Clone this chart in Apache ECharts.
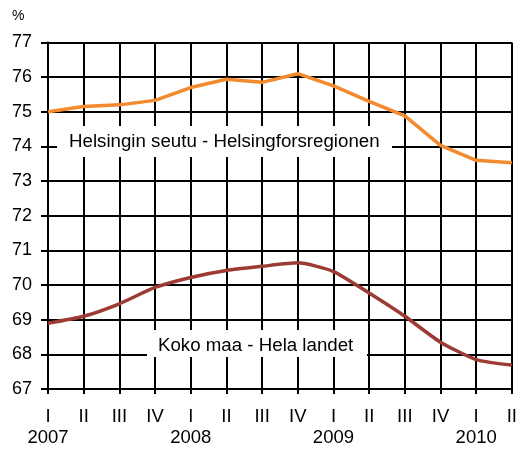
<!DOCTYPE html>
<html>
<head>
<meta charset="utf-8">
<script src="https://cdn.jsdelivr.net/npm/echarts@6/dist/echarts.min.js"></script>
<style>
  html, body { margin: 0; padding: 0; background: #fff; }
  #chart { width: 520px; height: 449px; }
</style>
</head>
<body>
<div id="chart"></div>
<script>
// quarters 2007 I .. 2010 II
var quarters = ['I', 'II', 'III', 'IV', 'I', 'II', 'III', 'IV', 'I', 'II', 'III', 'IV', 'I', 'II'];
var years = ['2007', '', '', '', '2008', '', '', '', '2009', '', '', '', '2010', ''];
var helsinki = [75.0, 75.15, 75.2, 75.33, 75.7, 75.94, 75.85, 76.1, 75.75, 75.3, 74.88, 74.03, 73.6, 73.53];
var kokoMaa = [68.9, 69.1, 69.46, 69.93, 70.22, 70.42, 70.54, 70.64, 70.39, 69.77, 69.1, 68.35, 67.85, 67.69];
var helsinkiName = 'Helsingin seutu - Helsingforsregionen';
var kokoMaaName = 'Koko maa - Hela landet';

var chart = echarts.init(document.getElementById('chart'));
var font = '"Liberation Sans", Arial, sans-serif';

var option = {
  backgroundColor: '#fff',
  animation: false,
  grid: { left: 48, right: 1, top: 42.5, bottom: 60 },
  xAxis: {
    type: 'category',
    data: quarters.map(function (q, i) { return i; }),
    boundaryGap: false,
    axisLine: { lineStyle: { color: '#000', width: 2 } },
    axisTick: { show: true, length: 5, interval: 0, lineStyle: { color: '#000', width: 2 } },
    splitLine: { show: true, interval: 0, lineStyle: { color: '#000', width: 2 } },
    axisLabel: {
      interval: 0,
      margin: 17,
      fontFamily: font,
      fontSize: 18.5,
      color: '#000',
      lineHeight: 21,
      formatter: function (v) {
        var i = +v;
        return years[i] ? quarters[i] + '\n' + years[i] : quarters[i];
      }
    }
  },
  yAxis: {
    type: 'value',
    min: 67,
    max: 77,
    interval: 1,
    axisLine: { show: true, lineStyle: { color: '#000', width: 2 } },
    axisTick: { show: true, length: 7, lineStyle: { color: '#000', width: 2 } },
    splitLine: { show: true, lineStyle: { color: '#000', width: 2 } },
    axisLabel: { margin: 16, fontFamily: font, fontSize: 18, color: '#000' }
  },
  graphic: [
    { type: 'text', left: 12, top: 9, z: 100, style: { text: '%', font: '14px ' + font, fill: '#000' } },
    { type: 'rect', z: 100, shape: { x: 57, y: 126, width: 335, height: 31 }, style: { fill: '#fff' } },
    { type: 'text', z: 101, x: 69, y: 142, style: { text: helsinkiName, font: '18.7px ' + font, fill: '#000', verticalAlign: 'middle' } },
    { type: 'rect', z: 100, shape: { x: 147, y: 330, width: 220, height: 27 }, style: { fill: '#fff' } },
    { type: 'text', z: 101, x: 158, y: 346, style: { text: kokoMaaName, font: '18.7px ' + font, fill: '#000', verticalAlign: 'middle' } }
  ],
  series: [
    {
      name: helsinkiName,
      type: 'line',
      data: helsinki,
      symbol: 'none',
      lineStyle: { color: '#f28a2e', width: 3.5 },
      z: 5
    },
    {
      name: kokoMaaName,
      type: 'line',
      data: kokoMaa,
      symbol: 'none',
      smooth: 0.2,
      lineStyle: { color: '#9c3b34', width: 3.5 },
      z: 5
    }
  ]
};

chart.setOption(option);
</script>
</body>
</html>
